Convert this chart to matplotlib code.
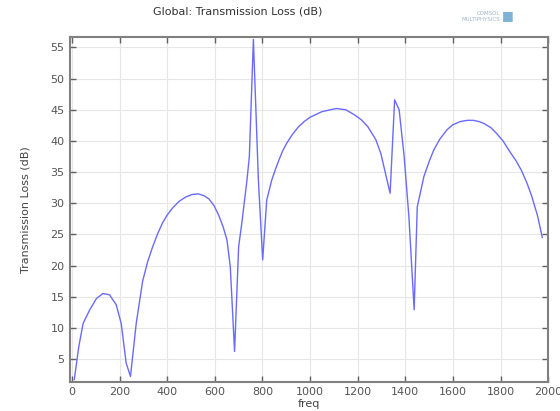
import matplotlib
matplotlib.use('Agg')
import matplotlib.pyplot as plt

# Values
freq = [10, 29, 47, 75, 103, 130, 158, 186, 207, 228, 246, 270, 297, 318, 339,
        360, 380, 400, 422, 450, 478, 505, 530, 555, 575, 597, 617, 635, 651,
        665, 683, 700, 714, 735, 745, 762, 783, 801, 818, 839, 855, 870, 885,
        900, 925, 950, 975, 1000, 1050, 1110, 1150, 1186, 1215, 1242, 1276,
        1297, 1336, 1355, 1374, 1395, 1415, 1437, 1450, 1478, 1500, 1519, 1545,
        1575, 1600, 1630, 1660, 1686, 1710, 1730, 1760, 1783, 1810, 1840, 1865,
        1887, 1910, 1930, 1955, 1975]
tl = [1.7, 7.0, 10.7, 12.9, 14.7, 15.5, 15.3, 13.7, 10.7, 4.3, 2.2, 10.7, 17.5,
      20.6, 23.0, 25.1, 26.8, 28.1, 29.2, 30.3, 31.0, 31.4, 31.5, 31.2, 30.7,
      29.6, 28.0, 26.2, 24.1, 19.8, 6.2, 23.0, 27.0, 33.7, 37.5, 56.3, 33.7,
      20.9, 30.5, 33.7, 35.5, 37.0, 38.4, 39.5, 41.0, 42.2, 43.1, 43.8, 44.7,
      45.2, 45.0, 44.2, 43.4, 42.3, 40.2, 38.0, 31.6, 46.6, 45.0, 37.5, 27.8,
      12.9, 29.4, 34.3, 36.7, 38.5, 40.3, 41.8, 42.6, 43.1, 43.3, 43.3, 43.1,
      42.8, 42.1, 41.2, 40.0, 38.2, 36.8, 35.3, 33.3, 31.2, 28.0, 24.5]
xticks = list(range(0, 2001, 200))
yticks = list(range(5, 56, 5))

plt.rcParams['font.family'] = ['DejaVu Sans']
fig = plt.figure(figsize=(5.6, 4.11), dpi=100)
ax = fig.add_axes([0.125, 0.0713, 0.854, 0.839])

ax.plot(freq, tl, color='#6a6aff', lw=1.0)
ax.set_xlim(-8, 2000)
ax.set_ylim(1.35, 56.7)
ax.set_xticks(xticks)
ax.set_yticks(yticks)
ax.grid(color='#e6e6e6', lw=0.8)
ax.set_axisbelow(True)
for s in ax.spines.values():
    s.set_color('#808080')
    s.set_linewidth(1.5)
ax.tick_params(direction='in', top=True, right=True, length=4, width=1,
               color='#606060', labelsize=8, labelcolor='#555555', pad=4)

ax.set_xlabel('freq', fontsize=8, color='#444444', labelpad=1)
ax.set_ylabel('Transmission Loss (dB)', fontsize=8, color='#444444', labelpad=14)
fig.text(238 / 560, 1 - 12 / 411, 'Global: Transmission Loss (dB)', fontsize=8,
         color='#333333', ha='center', va='center')
fig.text(500 / 560, 1 - 16 / 411, 'COMSOL', fontsize=4, color='#9fb6cc',
         ha='right', va='bottom')
fig.text(500 / 560, 1 - 17 / 411, 'MULTIPHYSICS', fontsize=4, color='#9fb6cc',
         ha='right', va='top')
fig.text(508 / 560, 1 - 16 / 411, '\u25a0', fontsize=9, color='#7fb3d5',
         ha='center', va='center')

fig.savefig('out.png', dpi=100)
